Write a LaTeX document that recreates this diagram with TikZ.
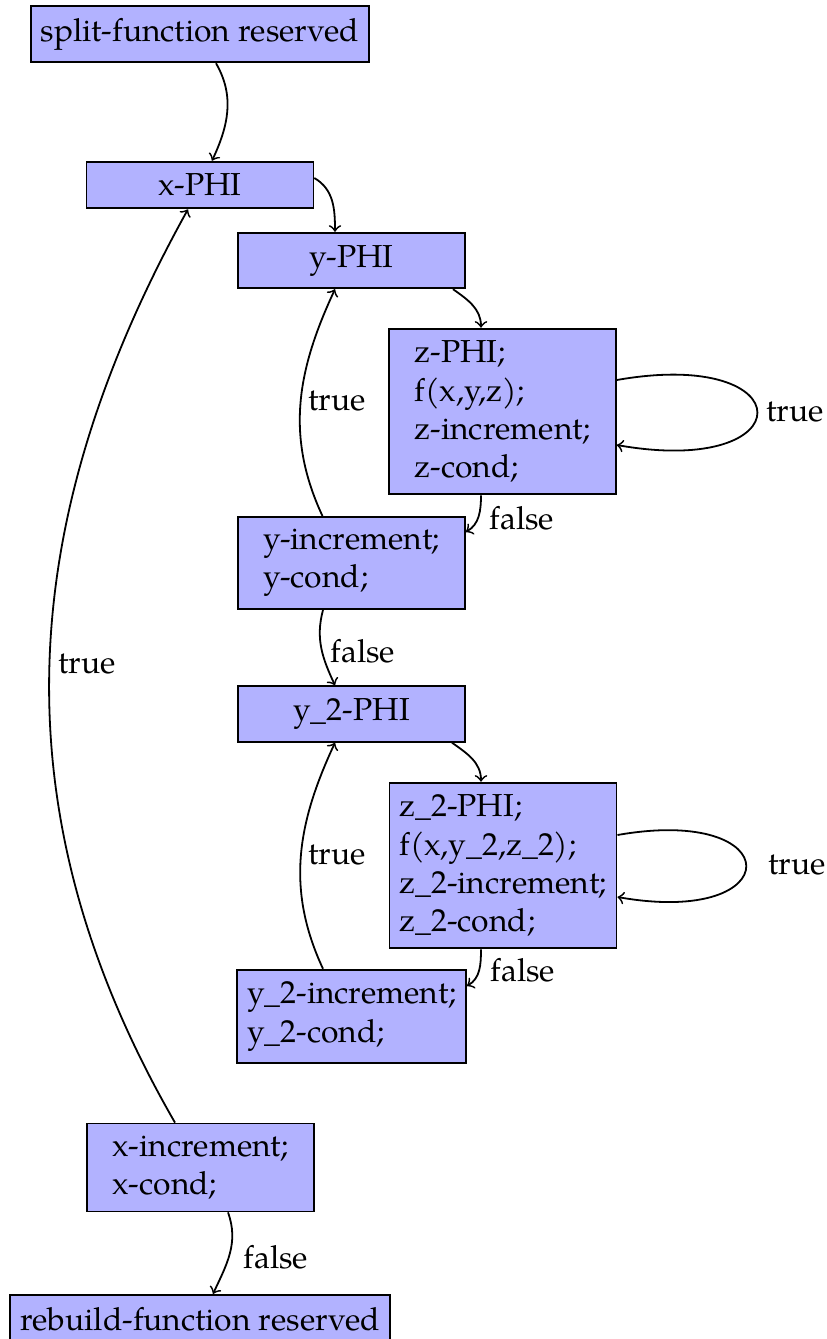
\documentclass[tikz,border=0pt]{standalone}
\usepackage{fontspec}
\setmainfont{TeX Gyre Pagella}
\usetikzlibrary{calc}
\tikzset{
  every node/.style={font=\fontsize{10.6pt}{12.7pt}\selectfont},
  blk/.style={draw=black, fill=blue!30, semithick, minimum width=75.6pt, inner ysep=4.1pt, align=left},
  arr/.style={->, semithick},
  lbl/.style={inner sep=0pt},
}
\begin{document}
\begin{tikzpicture}[x=0.33333pt,y=0.33333pt]
\useasboundingbox (0,0) rectangle (827,-1339);
\node[blk] (split) at (200,-34) {split-function reserved};
\node[blk] (xphi) at (200,-185) {x-PHI};
\node[blk] (yphi) at (351.5,-260.5) {y-PHI};
\node[blk] (zphi) at (502.5,-411.5) {z-PHI;\\ f(x,y,z);\\ z-increment;\\ z-cond;};
\node[blk] (yinc) at (351.5,-563) {y-increment;\\ y-cond;};
\node[blk] (ytphi) at (351.5,-714) {y\_2-PHI};
\node[blk] (ztphi) at (503,-865.5) {z\_2-PHI;\\ f(x,y\_2,z\_2);\\ z\_2-increment;\\ z\_2-cond;};
\node[blk] (ytinc) at (351.5,-1016.5) {y\_2-increment;\\ y\_2-cond;};
\node[blk] (xinc) at (200.5,-1167.5) {x-increment;\\ x-cond;};
\node[blk] (rebuild) at (200,-1319) {rebuild-function reserved};

\node[lbl] (l1) at (795,-412) {true};
\node[lbl] (l2) at (522,-518) {false};
\node[lbl] (l3) at (337,-401) {true};
\node[lbl] (l4) at (363,-651) {false};
\node[lbl] (l5) at (797,-865) {true};
\node[lbl] (l6) at (523,-970) {false};
\node[lbl] (l7) at (337,-855) {true};
\node[lbl] (l8) at (87,-664) {true};
\node[lbl] (l9) at (276,-1257) {false};

\draw[arr] ($(split.south)+(16,0)$) to[out=-60,in=65] ($(xphi.north)+(12,0)$);
\draw[arr] ($(xphi.east)+(0,7)$) to[out=-30,in=90] ($(yphi.north)+(-16.5,0)$);
\draw[arr] ($(yphi.south)+(101.5,0)$) to[out=-35,in=90] ($(zphi.north)+(-21.5,0)$);
\draw[arr] ($(zphi.east)+(0,31.5)$) to[out=10,in=-10,looseness=7.5] ($(zphi.east)+(0,-33.5)$);
\draw[arr] ($(zphi.south)+(-21.5,0)$) to[out=-90,in=30] ($(yinc.east)+(0,31)$);
\draw[arr] ($(yinc.north)+(-29,0)$) to[out=115,in=-115] ($(yphi.south)+(-16.5,0)$);
\draw[arr] ($(yinc.south)+(-28.5,0)$) to[out=-105,in=115] ($(ytphi.north)+(-16.5,0)$);
\draw[arr] ($(ytphi.south)+(100.5,0)$) to[out=-35,in=90] ($(ztphi.north)+(-22,0)$);
\draw[arr] ($(ztphi.east)+(0,30.5)$) to[out=10,in=-10,looseness=7.2] ($(ztphi.east)+(0,-31.5)$);
\draw[arr] ($(ztphi.south)+(-22,0)$) to[out=-90,in=30] ($(ytinc.east)+(0,30.5)$);
\draw[arr] ($(ytinc.north)+(-28.5,0)$) to[out=115,in=-115] ($(ytphi.south)+(-16.5,0)$);
\draw[arr] ($(xinc.north)+(-25.5,0)$) to[out=120,in=-119] ($(xphi.south)+(-12,0)$);
\draw[arr] ($(xinc.south)+(27.5,0)$) to[out=-70,in=65] ($(rebuild.north)+(13,0)$);
\end{tikzpicture}
\end{document}
